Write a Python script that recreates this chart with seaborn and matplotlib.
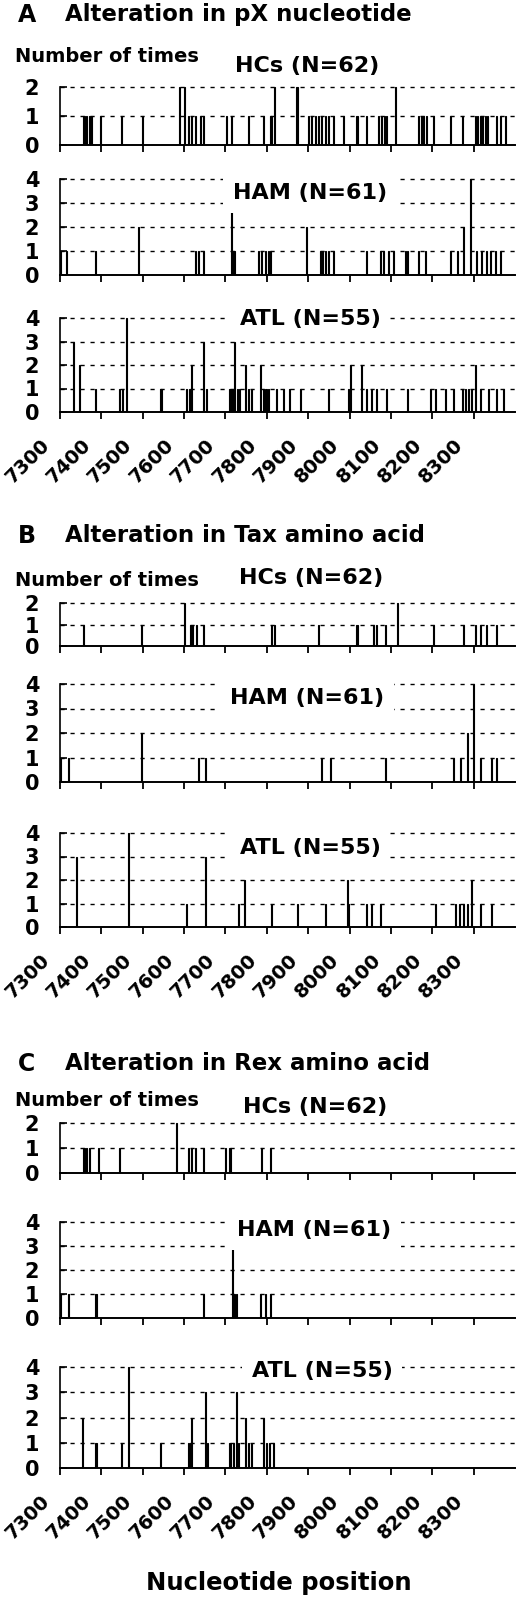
import numpy as np
import matplotlib
matplotlib.use("Agg")
import matplotlib.pyplot as plt
import matplotlib.transforms as mtransforms
import seaborn as sns

sns.set_style("white")
plt.rcParams['font.family'] = ['DejaVu Sans']
plt.rcParams['text.color'] = 'black'
plt.rcParams['axes.labelcolor'] = 'black'
plt.rcParams['xtick.color'] = 'black'
plt.rcParams['ytick.color'] = 'black'

# ---------------- data ----------------
XTICKS = list(range(7300, 8301, 100))
X_RANGE = (7300, 8400)

panel_letters = ["A", "B", "C"]
panel_titles = ["Alteration in pX nucleotide",
                "Alteration in Tax amino acid",
                "Alteration in Rex amino acid"]
group_labels = ["HCs (N=62)", "HAM (N=61)", "ATL (N=55)"]
y_label = "Number of times"
x_label = "Nucleotide position"

# A: pX nucleotide
pX_HC_pos = [7358, 7365, 7371, 7377, 7399, 7449, 7500, 7590, 7602, 7610,
             7619, 7627, 7639, 7647, 7703, 7715, 7756, 7792, 7808, 7812,
             7818, 7873, 7901, 7909, 7917, 7925, 7933, 7941, 7949, 7961,
             7985, 8018, 8042, 8070, 8078, 8084, 8090, 8110, 8167, 8173,
             8179, 8185, 8203, 8244, 8272, 8304, 8310, 8316, 8322, 8328,
             8334, 8356, 8365, 8377]
pX_HC_cnt = [1, 1, 1, 1, 1, 1, 1, 2, 2, 1,
             1, 1, 1, 1, 1, 1, 1, 1, 1, 1,
             2, 2, 1, 1, 1, 1, 1, 1, 1, 1,
             1, 1, 1, 1, 1, 1, 1, 2, 1, 1,
             1, 1, 1, 1, 1, 1, 1, 1, 1, 1,
             1, 1, 1, 1]
pX_HAM_pos = [7302, 7316, 7385, 7490, 7627, 7635, 7647, 7715, 7719, 7723,
              7780, 7788, 7796, 7804, 7810, 7897, 7929, 7935, 7941, 7949,
              7961, 8042, 8074, 8082, 8094, 8106, 8135, 8140, 8167, 8183,
              8244, 8260, 8276, 8292, 8308, 8320, 8332, 8340, 8352, 8365]
pX_HAM_cnt = [1, 1, 1, 2, 1, 1, 1, 3, 1, 1,
              1, 1, 1, 1, 1, 2, 1, 1, 1, 1,
              1, 1, 1, 1, 1, 1, 1, 1, 1, 1,
              1, 1, 2, 4, 1, 1, 1, 1, 1, 1]
pX_ATL_pos = [7332, 7348, 7385, 7445, 7452, 7461, 7542, 7546, 7606, 7613,
              7619, 7648, 7655, 7711, 7718, 7723, 7729, 7735, 7748, 7756,
              7764, 7784, 7792, 7798, 7804, 7824, 7840, 7856, 7881, 7949,
              7998, 8002, 8030, 8042, 8054, 8066, 8090, 8139, 8195, 8207,
              8231, 8252, 8272, 8280, 8288, 8296, 8304, 8316, 8336, 8356,
              8373]
pX_ATL_cnt = [3, 2, 1, 1, 1, 4, 1, 1, 1, 1,
              2, 3, 1, 1, 1, 3, 1, 1, 2, 1,
              1, 2, 1, 1, 1, 1, 1, 1, 1, 1,
              1, 2, 2, 1, 1, 1, 1, 1, 1, 1,
              1, 1, 1, 1, 1, 1, 2, 1, 1, 1,
              1]

# B: Tax amino acid
tax_HC_pos = [7356, 7498, 7602, 7615, 7621, 7631, 7647, 7812, 7818, 7925,
              8018, 8058, 8066, 8086, 8115, 8203, 8276, 8304, 8316, 8332,
              8356]
tax_HC_cnt = [1, 1, 2, 1, 1, 1, 1, 1, 1, 1,
              1, 1, 1, 1, 2, 1, 1, 1, 1, 1,
              1]
tax_HAM_pos = [7302, 7320, 7498, 7635, 7651, 7933, 7953, 8086, 8252, 8268,
               8284, 8300, 8316, 8344, 8356]
tax_HAM_cnt = [1, 1, 2, 1, 1, 1, 1, 1, 1, 1,
               2, 4, 1, 1, 1]
tax_ATL_pos = [7339, 7465, 7606, 7651, 7731, 7745, 7812, 7875, 7941, 7994,
               7998, 8040, 8052, 8074, 8207, 8256, 8266, 8276, 8284, 8296,
               8316, 8344]
tax_ATL_cnt = [3, 4, 1, 3, 1, 2, 1, 1, 1, 2,
               1, 1, 1, 1, 1, 1, 1, 1, 1, 2,
               1, 1]

# C: Rex amino acid
rex_HC_pos = [7358, 7365, 7371, 7393, 7445, 7582, 7610, 7619, 7627, 7647,
              7699, 7711, 7788, 7808]
rex_HC_cnt = [1, 1, 1, 1, 1, 2, 1, 1, 1, 1,
              1, 1, 1, 1]
rex_HAM_pos = [7302, 7320, 7387, 7648, 7717, 7723, 7727, 7784, 7796, 7808]
rex_HAM_cnt = [1, 1, 1, 1, 3, 1, 1, 1, 1, 1]
rex_ATL_pos = [7355, 7387, 7449, 7465, 7544, 7610, 7615, 7619, 7651, 7656,
               7711, 7719, 7726, 7731, 7748, 7756, 7764, 7792, 7800, 7806,
               7816]
rex_ATL_cnt = [2, 1, 1, 4, 1, 1, 1, 2, 3, 1,
               1, 1, 3, 1, 2, 1, 1, 2, 1, 1,
               1]

series = [
    [(pX_HC_pos, pX_HC_cnt), (pX_HAM_pos, pX_HAM_cnt), (pX_ATL_pos, pX_ATL_cnt)],
    [(tax_HC_pos, tax_HC_cnt), (tax_HAM_pos, tax_HAM_cnt), (tax_ATL_pos, tax_ATL_cnt)],
    [(rex_HC_pos, rex_HC_cnt), (rex_HAM_pos, rex_HAM_cnt), (rex_ATL_pos, rex_ATL_cnt)],
]
group_ymax = [2, 4, 4]

# ---------------- layout (pixels) ----------------
FW, FH = 520, 1600
AX_L, AX_R = 60, 515
axes_px = [
    [(87, 145), (179, 275), (318, 412)],
    [(603, 646), (684, 782), (833, 927)],
    [(1123, 1173), (1222, 1318), (1367, 1468)],
]
title_y = [15, 536, 1064]
ylab_y = [56, 580, 1100]
hc_xy = [(307, 66), (311, 578), (315, 1107)]
other_xy = [
    [(310, 193), (310, 319)],
    [(307, 698), (310, 848)],
    [(314, 1230), (322, 1371)],
]
BAR_NT = 2.5

fig = plt.figure(figsize=(FW / 100, FH / 100), dpi=100)


def fx(px):
    return px / FW


def fy(px):
    return 1 - px / FH


label_offset = mtransforms.ScaledTranslation(-20 / 100, 0, fig.dpi_scale_trans)

for p in range(3):
    fig.text(fx(18), fy(title_y[p]), panel_letters[p], ha='left', va='center',
             fontsize=17, fontweight='bold')
    fig.text(fx(65), fy(title_y[p]), panel_titles[p], ha='left', va='center',
             fontsize=16.5, fontweight='bold')
    fig.text(fx(15), fy(ylab_y[p]), y_label, ha='left', va='center',
             fontsize=14, fontweight='bold')
    fig.text(fx(hc_xy[p][0]), fy(hc_xy[p][1]), group_labels[0], ha='center',
             va='center', fontsize=16, fontweight='bold')

    for g in range(3):
        ymax = group_ymax[g]
        top_px, base_px = axes_px[p][g]
        ppu = (base_px - top_px) / ymax
        ytop = ymax + 0.12
        top_edge = base_px - ytop * ppu
        ax = fig.add_axes([fx(AX_L), fy(base_px), (AX_R - AX_L) / FW,
                           (base_px - top_edge) / FH])
        pos, cnt = series[p][g]
        pos = np.asarray(pos, dtype=float)
        cnt = np.asarray(cnt, dtype=float)
        w = BAR_NT / np.diff(np.unique(pos)).min()
        sns.barplot(x=pos, y=cnt, native_scale=True, orient='x', width=w,
                    color='black', edgecolor='black', linewidth=0.8,
                    saturation=1, errorbar=None, ax=ax, zorder=3)
        ax.set_xlim(*X_RANGE)
        ax.set_ylim(0, ytop)
        ax.set_xlabel("")
        ax.set_ylabel("")
        ax.set_yticks(list(range(0, ymax + 1)))
        ax.set_yticklabels([str(v) for v in range(0, ymax + 1)],
                           fontsize=15, fontweight='bold')
        ax.set_axisbelow(True)
        ax.yaxis.grid(True, linestyle=(0, (3, 4.2)), color='black',
                      linewidth=1.0)
        ax.xaxis.grid(False)
        ax.tick_params(axis='y', direction='in', length=5, width=1.2,
                       left=True, pad=15, colors='black')
        ax.set_xticks(XTICKS)
        ax.tick_params(axis='x', direction='out', length=5, width=1.3,
                       bottom=True, colors='black')
        for s in ['top', 'right']:
            ax.spines[s].set_visible(False)
        ax.spines['left'].set_bounds(0, ymax)
        ax.spines['left'].set_linewidth(1.2)
        ax.spines['bottom'].set_linewidth(1.4)
        ax.spines['left'].set_color('black')
        ax.spines['bottom'].set_color('black')
        ax.patch.set_alpha(0)
        if g == 2:
            ax.set_xticklabels([str(t) for t in XTICKS], rotation=45,
                               ha='right', rotation_mode='anchor',
                               fontsize=14, fontweight='bold')
            ax.tick_params(axis='x', pad=12)
            for lab in ax.get_xticklabels():
                lab.set_transform(lab.get_transform() + label_offset)
        else:
            ax.set_xticklabels([])
        if g > 0:
            lx, ly = other_xy[p][g - 1]
            fig.text(fx(lx), fy(ly), group_labels[g], ha='center',
                     va='center', fontsize=16, fontweight='bold',
                     bbox=dict(facecolor='white', edgecolor='none',
                               boxstyle='square,pad=0.45'), zorder=5)

fig.text(fx(279), fy(1583), x_label, ha='center', va='center',
         fontsize=17.5, fontweight='bold')

fig.savefig("out.png", dpi=100, facecolor='white')
